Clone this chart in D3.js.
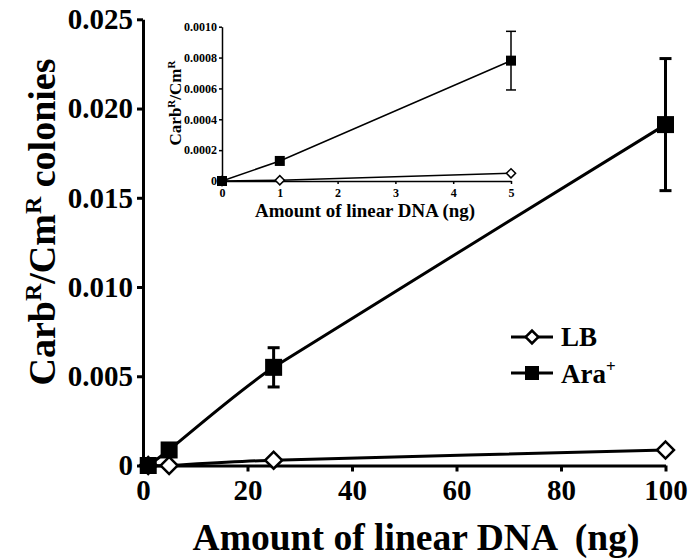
<!DOCTYPE html>
<html>
<head>
<meta charset="utf-8">
<script src="https://cdn.jsdelivr.net/npm/d3@7"></script>
</head>
<body style="margin:0; background:#fff">
<svg id="canvas" width="694" height="560" font-family="Liberation Serif" font-weight="700"></svg>
<script>
// ###############
// data
// ###############
var mainDNA   = [1, 5, 25, 100];                 // ng linear DNA
var mainLB    = [0, 0, 0.0003, 0.00087];
var mainAra   = [0, 0.00087, 0.0055, 0.0191];
var mainAraErr = [0, 0, 0.0011, 0.0037];
var mainYTicks = [0, 0.005, 0.010, 0.015, 0.020, 0.025];
var mainXTicks = [0, 20, 40, 60, 80, 100];

var insetDNA   = [0, 1, 5];
var insetLB    = [0, 0.000005, 0.00005];
var insetAra   = [0, 0.00013, 0.00078];
var insetAraErr = [0, 0, 0.00019];
var insetYTicks = [0, 0.0002, 0.0004, 0.0006, 0.0008, 0.0010];
var insetXTicks = [0, 1, 2, 3, 4, 5];

var FONT = "Liberation Serif";
var svg = d3.select("#canvas");

// every text goes through here so the serif font is always set on the element
function label(sel, x, y, size, str) {
    return sel.append("text").attr("x", x).attr("y", y)
        .attr("font-family", FONT).attr("font-weight", "700")
        .attr("font-size", size).attr("fill", "#000").text(str);
}

// builds one panel (axes + two series); o holds sizes for main vs inset
function drawPanel(o) {
    var x = d3.scaleLinear().domain(o.xDomain).range(o.xRange);
    var y = d3.scaleLinear().domain(o.yDomain).range(o.yRange);
    var g = svg.append("g");

    var yAxis = d3.axisLeft(y).tickValues(o.yTicks).tickSize(o.tick).tickSizeOuter(0)
        .tickPadding(o.yPad).tickFormat(function(d) { return d === 0 ? "0" : d3.format(o.yFmt)(d); });
    var xAxis = d3.axisBottom(x).tickValues(o.xTicks).tickSize(o.tick).tickSizeOuter(0)
        .tickPadding(o.xPad).tickFormat(d3.format("d"));

    var ya = g.append("g").attr("transform", "translate(" + o.xRange[0] + ",0)").call(yAxis);
    var xa = g.append("g").attr("transform", "translate(0," + o.yRange[0] + ")").call(xAxis);
    [ya, xa].forEach(function(a) {
        a.attr("font-family", FONT).attr("font-weight", "700").attr("font-size", o.tickFont);
        a.select(".domain").attr("stroke", "#000").attr("stroke-width", o.axisW);
        a.selectAll(".tick line").attr("stroke", "#000").attr("stroke-width", o.axisW);
        a.selectAll(".tick text").attr("fill", "#000")
            .attr("font-family", FONT).attr("font-weight", "700").attr("font-size", o.tickFont);
    });

    var line = d3.line().curve(o.curve)
        .x(function(d) { return x(d[0]); })
        .y(function(d) { return y(d[1]); });

    var lb = o.dna.map(function(d, i) { return [d, o.lb[i]]; });
    var ara = o.dna.map(function(d, i) { return [d, o.ara[i], o.err[i]]; });

    g.append("path").datum(lb).attr("d", line)
        .attr("fill", "none").attr("stroke", "#000").attr("stroke-width", o.lineW);
    g.append("path").datum(ara).attr("d", line)
        .attr("fill", "none").attr("stroke", "#000").attr("stroke-width", o.lineW);

    // error bars for Ara+
    var eb = g.append("g").selectAll("g").data(ara.filter(function(d) { return d[2] > 0; }))
        .enter().append("g");
    eb.append("line")
        .attr("x1", function(d) { return x(d[0]); }).attr("x2", function(d) { return x(d[0]); })
        .attr("y1", function(d) { return y(d[1] - d[2]); }).attr("y2", function(d) { return y(d[1] + d[2]); })
        .attr("stroke", "#000").attr("stroke-width", o.lineW);
    [-1, 1].forEach(function(s) {
        eb.append("line")
            .attr("x1", function(d) { return x(d[0]) - o.cap; }).attr("x2", function(d) { return x(d[0]) + o.cap; })
            .attr("y1", function(d) { return y(d[1] + s * d[2]); }).attr("y2", function(d) { return y(d[1] + s * d[2]); })
            .attr("stroke", "#000").attr("stroke-width", o.lineW);
    });

    // LB diamonds (open)
    g.append("g").selectAll("path").data(lb).enter().append("path")
        .attr("transform", function(d) { return "translate(" + x(d[0]) + "," + y(d[1]) + ") rotate(45)"; })
        .attr("d", d3.symbol().type(d3.symbolSquare).size(o.diamond * o.diamond))
        .attr("fill", "#fff").attr("stroke", "#000").attr("stroke-width", o.markW);

    // Ara+ squares (filled)
    g.append("g").selectAll("rect").data(ara).enter().append("rect")
        .attr("x", function(d) { return x(d[0]) - o.square / 2; })
        .attr("y", function(d) { return y(d[1]) - o.square / 2; })
        .attr("width", o.square).attr("height", o.square).attr("fill", "#000");

    return g;
}

// ###############
// main chart
// ###############
drawPanel({
    xDomain: [0, 100], xRange: [143, 665.5],
    yDomain: [0, 0.025], yRange: [465.5, 19.3],
    xTicks: mainXTicks, yTicks: mainYTicks, yFmt: ".3f",
    tick: 6, yPad: 4, xPad: 8, axisW: 3, tickFont: 29,
    dna: mainDNA, lb: mainLB, ara: mainAra, err: mainAraErr,
    curve: d3.curveCardinal.tension(0.6),
    lineW: 3, cap: 6, diamond: 12, markW: 2.5, square: 17
});

label(svg, 416, 550, 38, "Amount of linear DNA \u00a0(ng)")
    .attr("text-anchor", "middle")
    .attr("textLength", 447).attr("lengthAdjust", "spacingAndGlyphs");

var yt = label(svg, 0, 0, 38, null).attr("transform", "translate(55,222) rotate(-90)")
    .attr("text-anchor", "middle");
yt.append("tspan").text("Carb");
yt.append("tspan").attr("font-size", 24).attr("dy", -14).text("R");
yt.append("tspan").attr("dy", 14).text("/Cm");
yt.append("tspan").attr("font-size", 24).attr("dy", -14).text("R");
yt.append("tspan").attr("dy", 14).text(" colonies");

// legend
var legend = svg.append("g");
legend.append("line").attr("x1", 511).attr("x2", 553).attr("y1", 337).attr("y2", 337)
    .attr("stroke", "#000").attr("stroke-width", 3);
legend.append("path").attr("transform", "translate(532,337) rotate(45)")
    .attr("d", d3.symbol().type(d3.symbolSquare).size(81))
    .attr("fill", "#fff").attr("stroke", "#000").attr("stroke-width", 2.5);
label(legend, 561, 346, 27, "LB");
legend.append("line").attr("x1", 511).attr("x2", 553).attr("y1", 373).attr("y2", 373)
    .attr("stroke", "#000").attr("stroke-width", 3);
legend.append("rect").attr("x", 525).attr("y", 366).attr("width", 14).attr("height", 14).attr("fill", "#000");
var ar = label(legend, 561, 383, 27, null);
ar.append("tspan").text("Ara");
ar.append("tspan").attr("font-size", 17).attr("dy", -11).text("+");

// ###############
// inset
// ###############
drawPanel({
    xDomain: [0, 5], xRange: [222, 511],
    yDomain: [0, 0.001], yRange: [181, 26.7],
    xTicks: insetXTicks, yTicks: insetYTicks, yFmt: ".4f",
    tick: 3, yPad: 2, xPad: 4, axisW: 1.5, tickFont: 12,
    dna: insetDNA, lb: insetLB, ara: insetAra, err: insetAraErr,
    curve: d3.curveLinear,
    lineW: 1.5, cap: 5, diamond: 6.5, markW: 1.5, square: 10
});

label(svg, 365, 217, 19, "Amount of linear DNA (ng)")
    .attr("text-anchor", "middle")
    .attr("textLength", 220).attr("lengthAdjust", "spacingAndGlyphs");

var it = label(svg, 0, 0, 17, null).attr("transform", "translate(181,103) rotate(-90)")
    .attr("text-anchor", "middle");
it.append("tspan").text("Carb");
it.append("tspan").attr("font-size", 11).attr("dy", -6).text("R");
it.append("tspan").attr("dy", 6).text("/Cm");
it.append("tspan").attr("font-size", 11).attr("dy", -6).text("R");
</script>
</body>
</html>
